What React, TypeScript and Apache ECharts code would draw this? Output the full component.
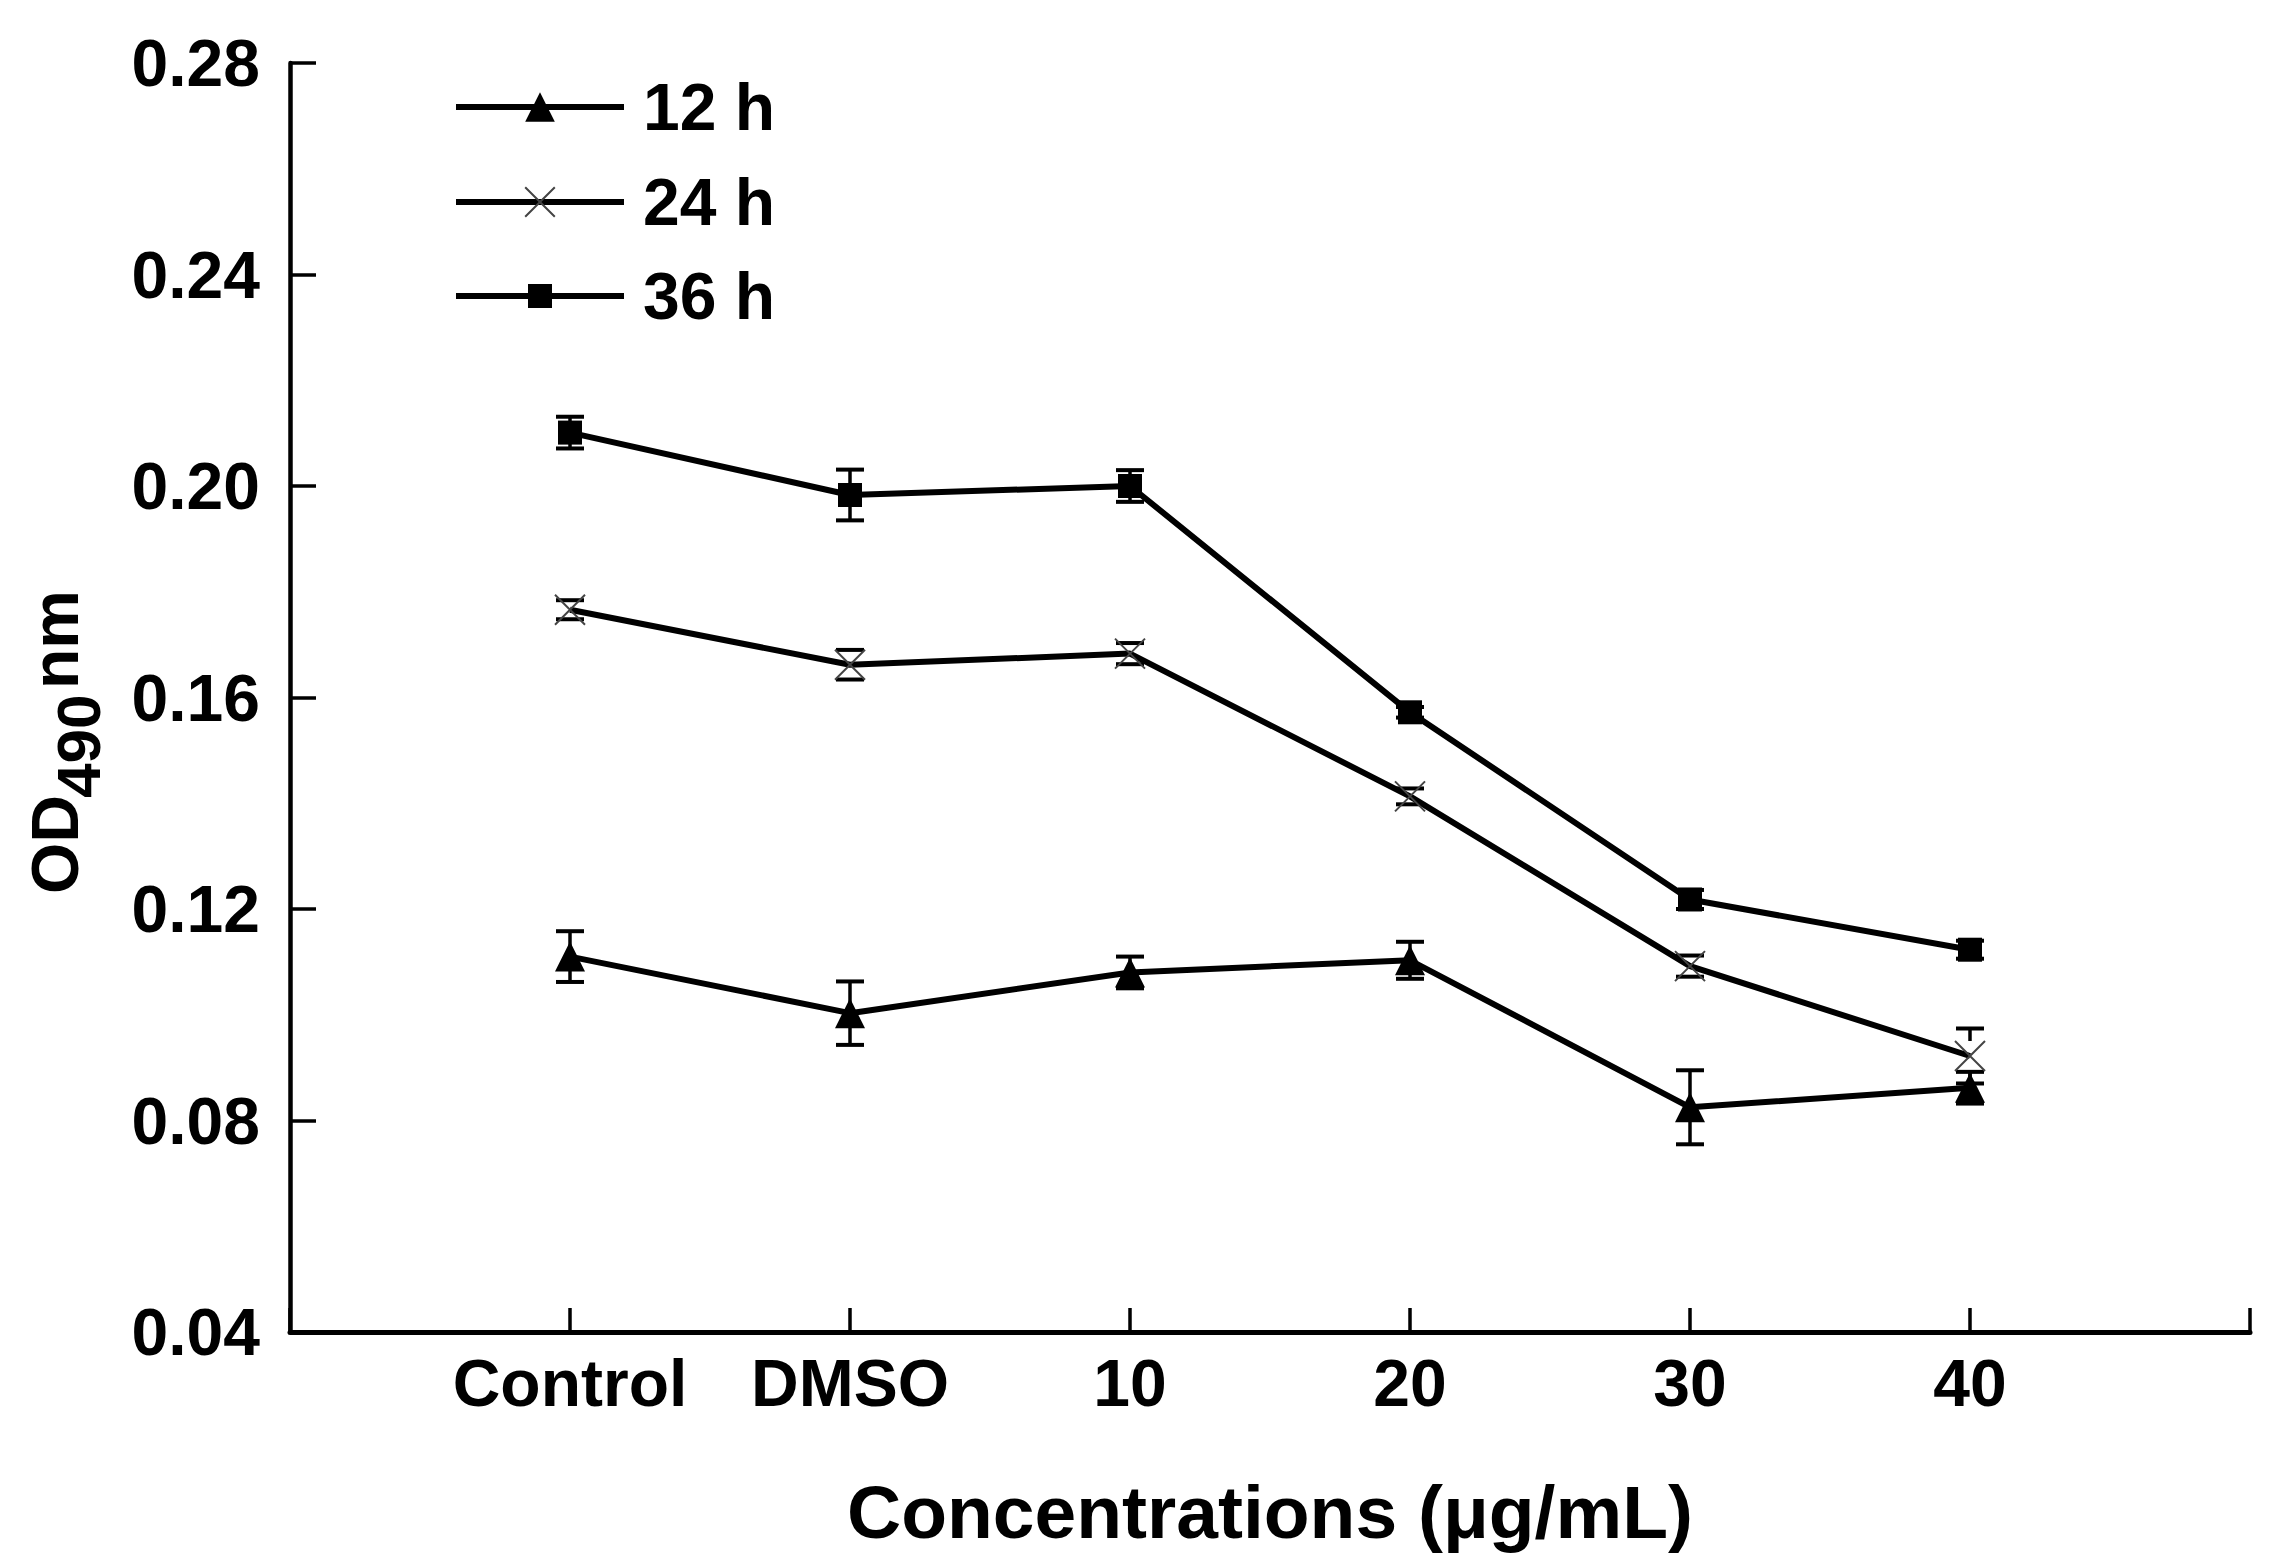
import React, { useEffect, useRef } from 'react';
import * as echarts from 'echarts';

const categories = ['Control', 'DMSO', '10', '20', '30', '40'];
const seriesNames = ['12 h', '24 h', '36 h'];
const values12 = [0.111, 0.1003, 0.108, 0.1103, 0.0825, 0.0862];
const errors12 = [0.0048, 0.006, 0.003, 0.0035, 0.007, 0.003];
const values24 = [0.1766, 0.1662, 0.1683, 0.1413, 0.1092, 0.0922];
const errors24 = [0.0018, 0.0028, 0.002, 0.0015, 0.002, 0.0052];
const values36 = [0.2101, 0.1983, 0.2, 0.1572, 0.1218, 0.1123];
const errors36 = [0.003, 0.0048, 0.003, 0.001, 0.0018, 0.0017];
const yMin = 0.04;
const yMax = 0.28;
const yInterval = 0.04;

const FONT = '"Liberation Sans", Arial, sans-serif';

export default function App() {
  const ref = useRef<HTMLDivElement>(null);
  useEffect(() => {
    if (!ref.current) return;
    const chart = echarts.init(ref.current, null, { renderer: 'svg' });
    const allValues = [values12, values24, values36];
    const allErrors = [errors12, errors24, errors36];
    const symbols = ['triangle', 'path://M0,0L20,20M20,0L0,20', 'rect'];
    const symbolSizes = [30, 30, 24];
    const stemGaps = [0, 15, 0];
    const legendItemHeights = [37, 37, 30];
    const legendCenters = [107, 202, 296];

    const lineSeries = seriesNames.map((name, i) => ({
      name,
      type: 'line',
      data: allValues[i].map((v, j) => [j + 1, v]),
      symbol: symbols[i],
      symbolSize: symbolSizes[i],
      z: 3,
      lineStyle: { color: '#000', width: 6 },
      itemStyle:
        i === 1
          ? { color: 'none', borderColor: '#444', borderWidth: 2 }
          : { color: '#000', borderWidth: 0 },
    }));

    const errorSeries = seriesNames.map((name, i) => ({
      name: name + ' err',
      type: 'custom',
      z: 2,
      data: allValues[i].map((v, j) => [j + 1, v - allErrors[i][j], v + allErrors[i][j], v]),
      encode: { x: 0, y: [1, 2] },
      renderItem: (params: any, api: any) => {
        const x = api.value(0);
        const pLo = api.coord([x, api.value(1)]);
        const pHi = api.coord([x, api.value(2)]);
        const pC = api.coord([x, api.value(3)]);
        const cap = 14;
        const gap = stemGaps[i];
        const style = { stroke: '#000', lineWidth: 4 };
        const children: any[] = [
          { type: 'line', shape: { x1: pHi[0] - cap, y1: pHi[1], x2: pHi[0] + cap, y2: pHi[1] }, style },
          { type: 'line', shape: { x1: pLo[0] - cap, y1: pLo[1], x2: pLo[0] + cap, y2: pLo[1] }, style },
        ];
        if (pC[1] - gap > pHi[1]) {
          children.push({ type: 'line', shape: { x1: pHi[0], y1: pHi[1], x2: pHi[0], y2: pC[1] - gap }, style: { ...style, lineWidth: 3.5 } });
        }
        if (pC[1] + gap < pLo[1]) {
          children.push({ type: 'line', shape: { x1: pLo[0], y1: pC[1] + gap, x2: pLo[0], y2: pLo[1] }, style: { ...style, lineWidth: 3.5 } });
        }
        return { type: 'group', children };
      },
    }));

    const option: any = {
      animation: false,
      backgroundColor: '#fff',
      grid: { left: 290, right: 29, top: 63, bottom: 232 },
      legend: seriesNames.map((n, i) => ({
        data: [n],
        orient: 'vertical',
        left: 453,
        top: legendCenters[i] - 33,
        padding: 0,
        itemWidth: 168,
        itemHeight: legendItemHeights[i],
        selectedMode: false,
        lineStyle: { color: '#000', width: 6 },
        textStyle: {
          fontSize: 66,
          fontWeight: 'bold',
          color: '#000',
          fontFamily: FONT,
          lineHeight: 66,
          padding: [0, 0, 0, 14],
        },
      })),
      xAxis: {
        type: 'value',
        min: 0,
        max: categories.length + 1,
        interval: 1,
        splitLine: { show: false },
        axisLine: { lineStyle: { color: '#000', width: 5 } },
        axisTick: { inside: true, length: 24, lineStyle: { color: '#000', width: 3.5 } },
        axisLabel: {
          formatter: (v: number) => categories[v - 1] ?? '',
          fontSize: 66,
          fontWeight: 'bold',
          color: '#000',
          fontFamily: FONT,
          margin: 18,
        },
        name: 'Concentrations (μg/mL)',
        nameLocation: 'middle',
        nameGap: 142,
        nameTextStyle: { fontSize: 75, fontWeight: 'bold', color: '#000', fontFamily: FONT },
      },
      yAxis: {
        type: 'value',
        min: yMin,
        max: yMax,
        interval: yInterval,
        splitLine: { show: false },
        axisLine: { show: true, lineStyle: { color: '#000', width: 4.5 } },
        axisTick: { show: true, inside: true, length: 26, lineStyle: { color: '#000', width: 3.5 } },
        axisLabel: {
          formatter: (v: number) => v.toFixed(2),
          fontSize: 66,
          fontWeight: 'bold',
          color: '#000',
          fontFamily: FONT,
          margin: 30,
        },
      },
      graphic: [
        {
          type: 'group',
          x: 20,
          y: 894,
          rotation: Math.PI / 2,
          children: [
            { type: 'text', x: 0, y: 2, style: { text: 'OD', fontSize: 66, fontWeight: 'bold', fontFamily: FONT, fill: '#000' } },
            { type: 'text', x: 96, y: 27, style: { text: '490', fontSize: 62, fontWeight: 'bold', fontFamily: FONT, fill: '#000' } },
            { type: 'text', x: 205, y: 2, style: { text: 'nm', fontSize: 66, fontWeight: 'bold', fontFamily: FONT, fill: '#000' } },
          ],
        },
      ],
      series: [...errorSeries, ...lineSeries],
    };
    chart.setOption(option);
    return () => chart.dispose();
  }, []);
  return <div ref={ref} style={{ position: 'absolute', left: 0, top: 0, width: 2279, height: 1564 }} />;
}
